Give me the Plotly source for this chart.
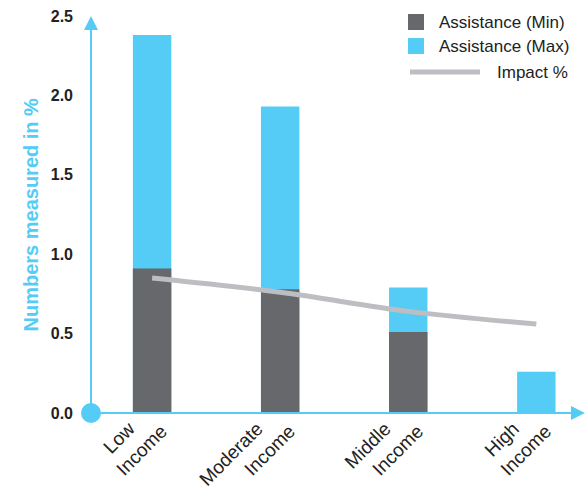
import plotly.graph_objects as go

categories = ["Low<br>Income", "Moderate<br>Income", "Middle<br>Income", "High<br>Income"]
assist_min = [0.91, 0.78, 0.51, 0.0]
assist_max = [2.38, 1.93, 0.79, 0.26]
impact = [0.85, 0.76, 0.64, 0.56]
y_ticks = [0.0, 0.5, 1.0, 1.5, 2.0, 2.5]
y_ticklabels = ["0.0", "0.5", "1.0", "1.5", "2.0", "2.5"]
legend_names = ["Assistance (Min)", "Assistance (Max)", "Impact %"]
y_title = "Numbers measured in %"

BLUE = "#55CCF5"
DARK = "#67686C"
LINE = "#BDBEC2"
TXT = "#222222"
FONT = "Liberation Sans, Arial, sans-serif"

W, H = 586, 492
L, R, T, B = 91, 1, 16, 79
PW, PH = W - L - R, H - T - B

def px_x(x):
    return (x - L) / PW

def px_y(y):
    return (H - B - y) / PH

# staggered two-line labels: pad the first line so the second line runs on past it
PAD = "\u00a0" * 4
ticktext = [c.replace("<br>", PAD + "<br>") for c in categories]

xpos = list(range(len(categories)))

fig = go.Figure()
fig.add_trace(go.Bar(x=xpos, y=assist_max, name=legend_names[1], marker_color=BLUE, width=0.3,
                     marker_line_width=0))
fig.add_trace(go.Bar(x=xpos, y=assist_min, name=legend_names[0], marker_color=DARK, width=0.3,
                     marker_line_width=0))
fig.add_trace(go.Scatter(x=xpos, y=impact, name=legend_names[2], mode="lines",
                         line=dict(color=LINE, width=5, shape="spline")))

fig.update_layout(
    width=W, height=H,
    margin=dict(l=L, r=R, t=T, b=B),
    paper_bgcolor="white", plot_bgcolor="white",
    barmode="overlay",
    showlegend=False,
    font=dict(family=FONT, color=TXT),
    xaxis=dict(range=[-0.477, 3.38], tickmode="array", tickvals=xpos, ticktext=ticktext,
               tickangle=-45, showgrid=False, zeroline=False, showline=False, ticks="",
               automargin=False, ticklabelstandoff=-15, ticklabelshift=-8,
               tickfont=dict(size=19, color=TXT, family=FONT)),
    yaxis=dict(range=[0, 2.5], tickmode="array", tickvals=y_ticks, ticktext=y_ticklabels,
               showgrid=False, zeroline=False, showline=False, ticks="",
               automargin=False, ticklabelstandoff=17,
               tickfont=dict(size=16, color=TXT, family=FONT, weight="bold")),
)

# y-axis title
fig.add_annotation(x=px_x(30), y=0.5, xref="paper", yref="paper", xanchor="center", yanchor="middle",
                   showarrow=False, text=y_title, textangle=-90,
                   font=dict(size=20, color=BLUE, family=FONT, weight="bold"))

# axis arrows
fig.add_annotation(x=0, y=1, xref="paper", yref="paper", ax=0, ay=PH, axref="pixel", ayref="pixel",
                   showarrow=True, arrowhead=2, arrowsize=1.4, arrowwidth=2, arrowcolor=BLUE, text="")
fig.add_annotation(x=1, y=0, xref="paper", yref="paper", ax=-PW, ay=0,
                   showarrow=True, arrowhead=2, arrowsize=1.4, arrowwidth=2, arrowcolor=BLUE, text="")
# origin dot
fig.add_shape(type="circle", xref="paper", yref="paper", xsizemode="pixel", ysizemode="pixel",
              xanchor=0, yanchor=0, x0=-10, x1=10, y0=-10, y1=10, fillcolor=BLUE, line_width=0)

# custom legend
leg_px = [22, 46, 72]
fig.add_shape(type="rect", xref="paper", yref="paper", xsizemode="pixel", ysizemode="pixel",
              xanchor=px_x(408), yanchor=px_y(leg_px[0]), x0=0, x1=16, y0=-8, y1=8,
              fillcolor=DARK, line_width=0)
fig.add_shape(type="rect", xref="paper", yref="paper", xsizemode="pixel", ysizemode="pixel",
              xanchor=px_x(408), yanchor=px_y(leg_px[1]), x0=0, x1=16, y0=-8, y1=8,
              fillcolor=BLUE, line_width=0)
fig.add_shape(type="line", xref="paper", yref="paper", xsizemode="pixel", ysizemode="pixel",
              xanchor=px_x(410), yanchor=px_y(leg_px[2]), x0=0, x1=70, y0=0, y1=0,
              line=dict(color=LINE, width=5))
for i, xpx in enumerate([437, 437, 495]):
    fig.add_annotation(x=px_x(xpx), y=px_y(leg_px[i]), xref="paper", yref="paper", xanchor="left",
                       yanchor="middle", showarrow=False, text=legend_names[i],
                       font=dict(size=17, color=TXT, family=FONT))

fig.write_html("out.html", config={"displayModeBar": False},
               post_script="document.body.style.margin='0px';")
